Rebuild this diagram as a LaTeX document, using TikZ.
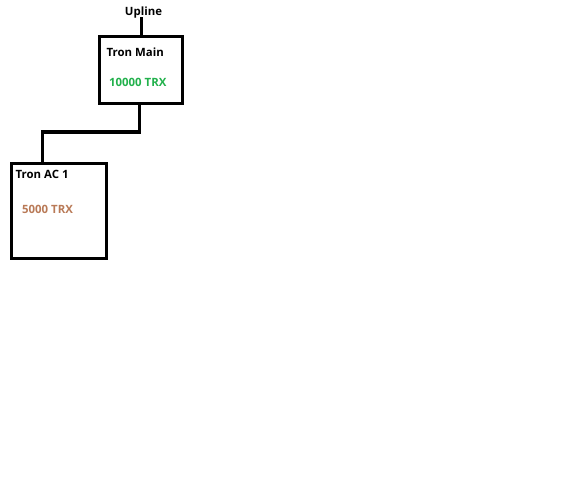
\documentclass[tikz,border=0pt]{standalone}
\usepackage{fontspec}
\setmainfont{Open Sans}
\definecolor{paintgreen}{RGB}{34,177,76}
\definecolor{paintbrown}{RGB}{185,122,87}
\begin{document}
\begin{tikzpicture}[x=1pt,y=-1pt,
  box/.style={draw=black, line width=3.5pt, rectangle, inner sep=0pt},
  conn/.style={draw=black, line width=3.5pt, line join=miter},
  lbl/.style={inner sep=0pt, font=\fontsize{11.4}{13}\selectfont\bfseries}]
\useasboundingbox[fill=white] (0,0) rectangle (584,479);
% boxes
\node[box, minimum width=83pt, minimum height=67pt] (main) at (141,70) {};
\node[box, minimum width=95pt, minimum height=95pt] (ac) at (59,211) {};
% labels
\node[lbl, anchor=base] (upline) at (143.5,16) {Upline};
\node[lbl, anchor=base west] (mainname) at (106.5,56) {Tron Main};
\node[lbl, anchor=base west, text=paintgreen] (mainamt) at (109,86) {10000 TRX};
\node[lbl, anchor=base west] (acname) at (15.5,178) {Tron AC 1};
\node[lbl, anchor=base west, text=paintbrown] (acamt) at (22,213) {5000 TRX};
% connectors
\coordinate (uptop) at (141.5,17);
\coordinate (mbot) at (139.5,104);
\coordinate (j1) at (139.5,132);
\coordinate (j2) at (42.5,132);
\draw[conn] (uptop) -- (uptop |- main.north);
\draw[conn] (mbot) -- (j1) -- (j2) -- (j2 |- ac.north);
\end{tikzpicture}
\end{document}
